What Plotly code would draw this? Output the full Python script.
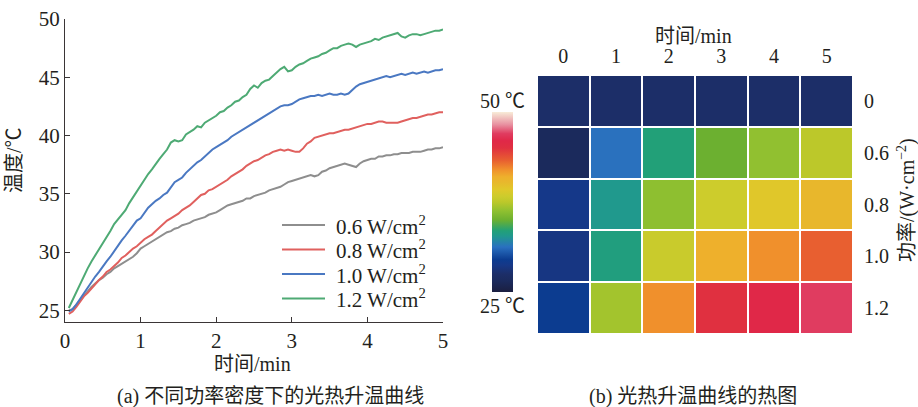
import plotly.graph_objects as go

# ---------------- data: left panel (temperature curves) ----------------
time_min = [round(0.05 * i, 2) for i in range(1, 101)]

temp_06 = [25.0, 25.1, 25.5, 25.9, 26.3, 26.6, 27.0, 27.3, 27.6, 27.8,
           28.1, 28.3, 28.6, 28.8, 29.0, 29.2, 29.4, 29.6, 29.9, 30.3,
           30.5, 30.7, 30.9, 31.1, 31.3, 31.5, 31.7, 31.8, 32.0, 32.1,
           32.3, 32.4, 32.5, 32.7, 32.8, 32.9, 33.0, 33.2, 33.3, 33.4,
           33.6, 33.8, 34.0, 34.1, 34.2, 34.3, 34.4, 34.6, 34.6, 34.8,
           34.9, 35.0, 35.1, 35.3, 35.4, 35.5, 35.6, 35.8, 36.0, 36.1,
           36.2, 36.3, 36.4, 36.5, 36.6, 36.5, 36.6, 36.9, 37.0, 37.2,
           37.3, 37.4, 37.5, 37.6, 37.5, 37.4, 37.3, 37.6, 37.8, 37.9,
           38.0, 38.0, 38.2, 38.2, 38.3, 38.3, 38.4, 38.4, 38.5, 38.5,
           38.5, 38.6, 38.6, 38.6, 38.7, 38.8, 38.8, 38.9, 38.9, 39.0]

temp_08 = [24.7, 24.9, 25.3, 25.8, 26.2, 26.5, 26.9, 27.2, 27.6, 27.9,
           28.3, 28.5, 28.8, 29.1, 29.5, 29.7, 30.0, 30.3, 30.5, 30.8,
           31.1, 31.3, 31.5, 31.8, 32.1, 32.4, 32.7, 32.9, 33.1, 33.3,
           33.6, 33.8, 34.0, 34.3, 34.6, 34.9, 35.0, 35.3, 35.4, 35.6,
           35.8, 36.0, 36.2, 36.5, 36.7, 36.9, 37.1, 37.4, 37.6, 37.8,
           37.9, 38.1, 38.3, 38.4, 38.6, 38.7, 38.8, 38.7, 38.8, 38.7,
           38.6, 38.6, 38.9, 39.3, 39.5, 39.8, 39.9, 40.0, 40.1, 40.2,
           40.2, 40.3, 40.4, 40.5, 40.5, 40.6, 40.7, 40.8, 40.9, 41.0,
           41.0, 41.1, 41.2, 41.2, 41.1, 41.1, 41.1, 41.1, 41.2, 41.3,
           41.4, 41.5, 41.5, 41.6, 41.7, 41.8, 41.8, 41.9, 42.0, 42.0]

temp_10 = [24.9, 25.1, 25.5, 26.0, 26.5, 26.9, 27.4, 27.9, 28.3, 28.8,
           29.2, 29.6, 30.1, 30.6, 31.0, 31.4, 31.8, 32.3, 32.7, 32.9,
           33.4, 33.8, 34.1, 34.4, 34.6, 34.9, 35.1, 35.6, 36.0, 36.2,
           36.4, 36.8, 37.1, 37.4, 37.7, 37.9, 38.2, 38.5, 38.8, 39.0,
           39.2, 39.4, 39.6, 39.9, 40.1, 40.3, 40.5, 40.7, 40.9, 41.1,
           41.3, 41.5, 41.7, 41.9, 42.1, 42.3, 42.5, 42.6, 42.6, 42.7,
           42.9, 43.1, 43.2, 43.3, 43.4, 43.4, 43.5, 43.4, 43.5, 43.6,
           43.5, 43.5, 43.6, 43.5, 43.6, 43.9, 44.2, 44.4, 44.5, 44.6,
           44.7, 44.8, 44.9, 45.0, 45.1, 45.0, 45.1, 45.2, 45.3, 45.2,
           45.3, 45.4, 45.3, 45.4, 45.5, 45.4, 45.5, 45.6, 45.6, 45.7]

temp_12 = [25.2, 25.9, 26.6, 27.3, 28.0, 28.6, 29.2, 29.7, 30.2, 30.7,
           31.3, 31.8, 32.4, 32.8, 33.2, 33.6, 34.2, 34.7, 35.3, 35.8,
           36.2, 36.7, 37.1, 37.6, 38.0, 38.4, 38.8, 39.4, 39.6, 39.5,
           39.6, 40.1, 40.3, 40.5, 40.8, 40.7, 41.1, 41.3, 41.5, 41.7,
           42.0, 42.1, 42.4, 42.6, 42.9, 43.0, 43.3, 43.5, 44.0, 44.3,
           44.1, 44.5, 44.7, 44.8, 45.1, 45.4, 45.7, 45.9, 45.5, 45.6,
           45.9, 46.1, 46.2, 46.4, 46.6, 46.7, 46.8, 47.0, 47.1, 47.3,
           47.5, 47.5, 47.7, 47.8, 47.9, 47.8, 47.6, 47.8, 47.9, 48.0,
           48.1, 48.3, 48.2, 48.4, 48.5, 48.6, 48.7, 48.8, 48.5, 48.4,
           48.6, 48.7, 48.7, 48.6, 48.7, 48.8, 48.9, 49.0, 49.0, 49.1]

series_names = ["0.6 W/cm<sup>2</sup>", "0.8 W/cm<sup>2</sup>",
                "1.0 W/cm<sup>2</sup>", "1.2 W/cm<sup>2</sup>"]
series_colors = ["#8e8e8e", "#e0605e", "#4a78c2", "#4eaa74"]

# ---------------- data: right panel (heat map) ----------------
hm_times = ["0", "1", "2", "3", "4", "5"]
hm_powers = ["0", "0.6", "0.8", "1.0", "1.2"]
hm_temps = [
    [27.5, 27.5, 27.5, 27.5, 27.5, 27.5],
    [26.5, 31.3, 33.5, 35.0, 36.3, 37.5],
    [28.8, 32.8, 36.2, 38.3, 39.3, 40.3],
    [28.5, 33.3, 38.1, 41.0, 42.0, 43.3],
    [29.5, 36.8, 42.0, 45.0, 46.0, 47.0],
]

thermal_scale = [
    [0.00, "#1b1f40"], [0.06, "#1b2a5c"], [0.10, "#1c2e68"],
    [0.15, "#163888"], [0.18, "#0c3c90"], [0.25, "#2a70c0"],
    [0.31, "#20988e"], [0.34, "#22a078"], [0.40, "#6cb030"],
    [0.45, "#8fc030"], [0.50, "#bcc82a"], [0.53, "#cccc2c"],
    [0.57, "#e0c82a"], [0.61, "#e8b82c"], [0.64, "#eeb02c"],
    [0.68, "#f0902c"], [0.73, "#e86030"], [0.80, "#e03040"],
    [0.84, "#e02848"], [0.88, "#e03c60"], [0.93, "#e890a0"],
    [1.00, "#f8ecd8"],
]

W, H = 918, 407
FONT = "Liberation Serif, Noto Sans CJK SC, serif"
TXT = "#231f20"

def px_x(p):
    return p / W

def px_y(p):
    return 1 - p / H

fig = go.Figure()

for vals, name, col in zip([temp_06, temp_08, temp_10, temp_12], series_names, series_colors):
    fig.add_trace(go.Scatter(x=time_min, y=vals, mode="lines", name=name,
                             line=dict(color=col, width=2), xaxis="x", yaxis="y",
                             showlegend=False))

fig.add_trace(go.Heatmap(
    x=hm_times, y=hm_powers, z=hm_temps, xaxis="x2", yaxis="y2",
    colorscale=thermal_scale, zmin=25, zmax=50, xgap=2, ygap=2,
    showscale=True,
    colorbar=dict(x=px_x(492), xanchor="left", y=px_y(202), yanchor="middle",
                  thickness=21, thicknessmode="pixels",
                  len=180 / H, lenmode="fraction", xpad=0, ypad=0,
                  outlinewidth=0, showticklabels=False, ticks=""),
    hoverinfo="skip",
))

axis_line = dict(showline=True, linecolor="#3a3536", linewidth=1.3, mirror=False,
                 showgrid=False, zeroline=False, ticks="inside", ticklen=5,
                 tickcolor="#3a3536", tickwidth=1.3, automargin=False,
                 tickfont=dict(family=FONT, size=21, color=TXT))

fig.update_layout(
    template="none",
    width=W, height=H, margin=dict(l=0, r=0, t=0, b=0, pad=0),
    paper_bgcolor="white", plot_bgcolor="white",
    font=dict(family=FONT, color=TXT),
    xaxis=dict(domain=[px_x(65), px_x(443)], range=[0, 5], dtick=1,
               anchor="y", **axis_line),
    yaxis=dict(domain=[px_y(322), px_y(19)], range=[24, 50],
               tickvals=[25, 30, 35, 40, 45, 50], anchor="x", **axis_line),
    xaxis2=dict(domain=[px_x(537), px_x(853)], type="category", side="top",
                anchor="y2", showgrid=False, zeroline=False, showline=False,
                ticks="outside", ticklen=3, tickcolor="rgba(0,0,0,0)",
                automargin=False,
                tickfont=dict(family=FONT, size=20, color=TXT)),
    yaxis2=dict(domain=[px_y(334), px_y(75)], type="category", side="right",
                autorange="reversed", anchor="x2", showgrid=False,
                zeroline=False, showline=False, ticks="outside", ticklen=6,
                tickcolor="rgba(0,0,0,0)", automargin=False,
                tickfont=dict(family=FONT, size=20, color=TXT)),
    showlegend=False,
)

# legend (drawn as a key: swatch line + label for each series)
legend_rows_px = [225, 249.5, 274, 298.5]
for name, col, ry in zip(series_names, series_colors, legend_rows_px):
    fig.add_shape(type="line", xref="paper", yref="paper",
                  x0=px_x(282), x1=px_x(325), y0=px_y(ry), y1=px_y(ry),
                  line=dict(color=col, width=2.2))
    fig.add_annotation(text=name, x=px_x(334), y=px_y(ry), xref="paper", yref="paper",
                       xanchor="left", yanchor="middle", showarrow=False,
                       font=dict(family=FONT, size=21, color=TXT))

ann = [
    dict(text="温度/℃", x=px_x(14), y=px_y(160), textangle=-90, size=20),
    dict(text="时间/min", x=px_x(253), y=px_y(364), textangle=0, size=20),
    dict(text="(a) 不同功率密度下的光热升温曲线", x=px_x(270), y=px_y(396), textangle=0, size=20),
    dict(text="时间/min", x=px_x(693), y=px_y(36), textangle=0, size=20),
    dict(text="功率/(W·cm<sup>−2</sup>)", x=px_x(906), y=px_y(200), textangle=-90, size=20),
    dict(text="50 ℃", x=px_x(502), y=px_y(101), textangle=0, size=20),
    dict(text="25 ℃", x=px_x(502), y=px_y(306), textangle=0, size=20),
    dict(text="(b) 光热升温曲线的热图", x=px_x(693), y=px_y(396), textangle=0, size=20),
]
for a in ann:
    fig.add_annotation(text=a["text"], x=a["x"], y=a["y"], xref="paper", yref="paper",
                       xanchor="center", yanchor="middle", showarrow=False,
                       textangle=a["textangle"],
                       font=dict(family=FONT, size=a["size"], color=TXT))

fig.write_html("out.html",
               config={"displayModeBar": False},
               post_script="document.body.style.margin='0';document.body.style.padding='0';")
